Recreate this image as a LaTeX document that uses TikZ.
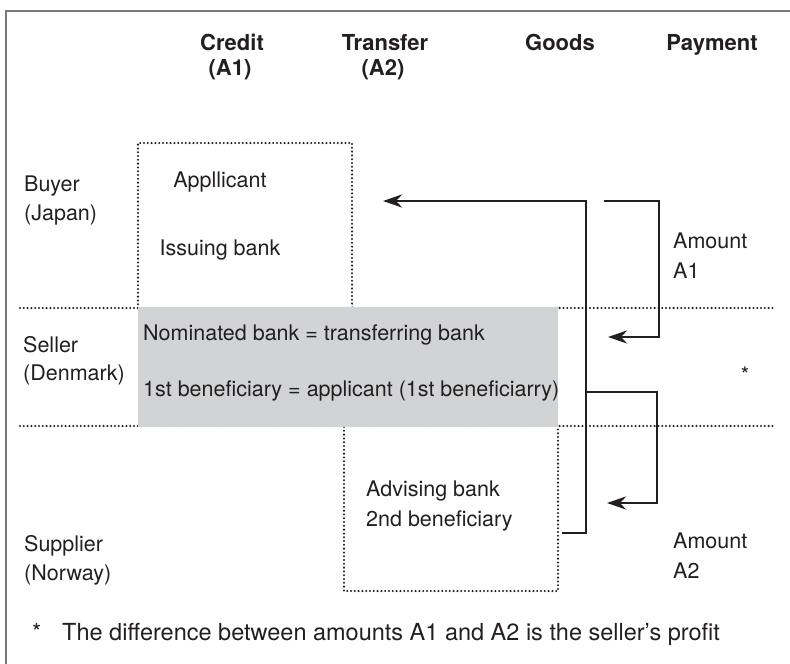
\documentclass[tikz,border=0pt]{standalone}
\usepackage{fontspec}
\setmainfont{TeX Gyre Heros}
\usetikzlibrary{arrows.meta}
\definecolor{ink}{HTML}{231F20}
\definecolor{panel}{HTML}{D1D3D4}
\definecolor{framegray}{HTML}{77787B}
\begin{document}
\begin{tikzpicture}[x=1pt,y=-1pt,
  every node/.style={font=\fontsize{21.5}{29}\selectfont, text=ink, inner sep=0pt},
  head/.style={font=\fontsize{22}{25}\selectfont\bfseries, anchor=base},
  lbl/.style={anchor=base west},
  dotline/.style={draw=ink, line width=2.3pt, line cap=round, dash pattern=on 0pt off 3.8pt},
  flow/.style={draw=ink, line width=2.8pt},
  tip/.style={-{Stealth[length=19pt,width=13pt,inset=6pt]}}
]
\useasboundingbox (0,0) rectangle (790,664);

% outer frame (open on the right and bottom)
\draw[framegray, line width=1.6pt] (6,664) -- (6,11) -- (790,11);

% column headings
\node[head] (hcredit)  at (232,50) {Credit};
\node[head] (hcreditA) at (230,75) {(A1)};
\node[head] (htrans)   at (385,50) {Transfer};
\node[head] (htransA)  at (383,75) {(A2)};
\node[head] (hgoods)   at (560,50) {Goods};
\node[head] (hpay)     at (712,50) {Payment};

% row labels
\node[lbl] (buyer)    at (24,191) {Buyer};
\node[lbl] (buyerc)   at (24,220) {(Japan)};
\node[lbl] (seller)   at (23,352) {Seller};
\node[lbl] (sellerc)  at (23,380) {(Denmark)};
\node[lbl] (supp)     at (24,551) {Supplier};
\node[lbl] (suppc)    at (24,580) {(Norway)};

% row separators
\draw[dotline] (20,308) -- (773,308);
\draw[dotline] (20,426) -- (773,426);

% credit and transfer boxes
\draw[dotline] (138,308) -- (138,143) -- (352,143) -- (352,308);
\draw[dotline] (344,427) -- (344,591) -- (558,591) -- (558,427);

\node[anchor=base] (applicant) at (220,187) {Appllicant};
\node[anchor=base] (issuing)   at (220,255) {Issuing bank};

% nominated / transferring bank panel
\fill[panel] (138,307) rectangle (558,427);
\node[lbl] (nominated) at (143,340) {Nominated bank = transferring bank};
\node[lbl] (firstben)  at (143,396) {1st beneficiary = applicant (1st beneficiarry)};

\node[lbl] (advising)  at (366,496) {Advising bank};
\node[lbl] (secondben) at (366,526) {2nd beneficiary};

% payment flow
\coordinate (g0) at (562,533);
\coordinate (g1) at (586,533);
\coordinate (g2) at (586,201);
\coordinate (g3) at (383,201);
\draw[flow, tip] (g0) -- (g1) -- (g2) -- (g3);

\coordinate (a0) at (604,201);
\coordinate (a1) at (659,201);
\coordinate (a2) at (659,337);
\coordinate (a3) at (608,337);
\draw[flow, tip] (a0) -- (a1) -- (a2) -- (a3);

\coordinate (b0) at (586,392);
\coordinate (b1) at (657,392);
\coordinate (b2) at (657,503);
\coordinate (b3) at (607,503);
\draw[flow, tip] (b0) -- (b1) -- (b2) -- (b3);

\node[lbl] (amt1)  at (673,248) {Amount};
\node[lbl] (amt1b) at (673,278) {A1};
\node[lbl] (amt2)  at (673,548) {Amount};
\node[lbl] (amt2b) at (673,578) {A2};
\node (star) at (745,375) {*};

% footnote
\node[lbl, font=\fontsize{23.5}{29}\selectfont] (fstar) at (32,640) {*};
\node[lbl, font=\fontsize{23.5}{29}\selectfont] (fnote) at (62,640) {The difference between amounts A1 and A2 is the seller’s profit};
\end{tikzpicture}
\end{document}
